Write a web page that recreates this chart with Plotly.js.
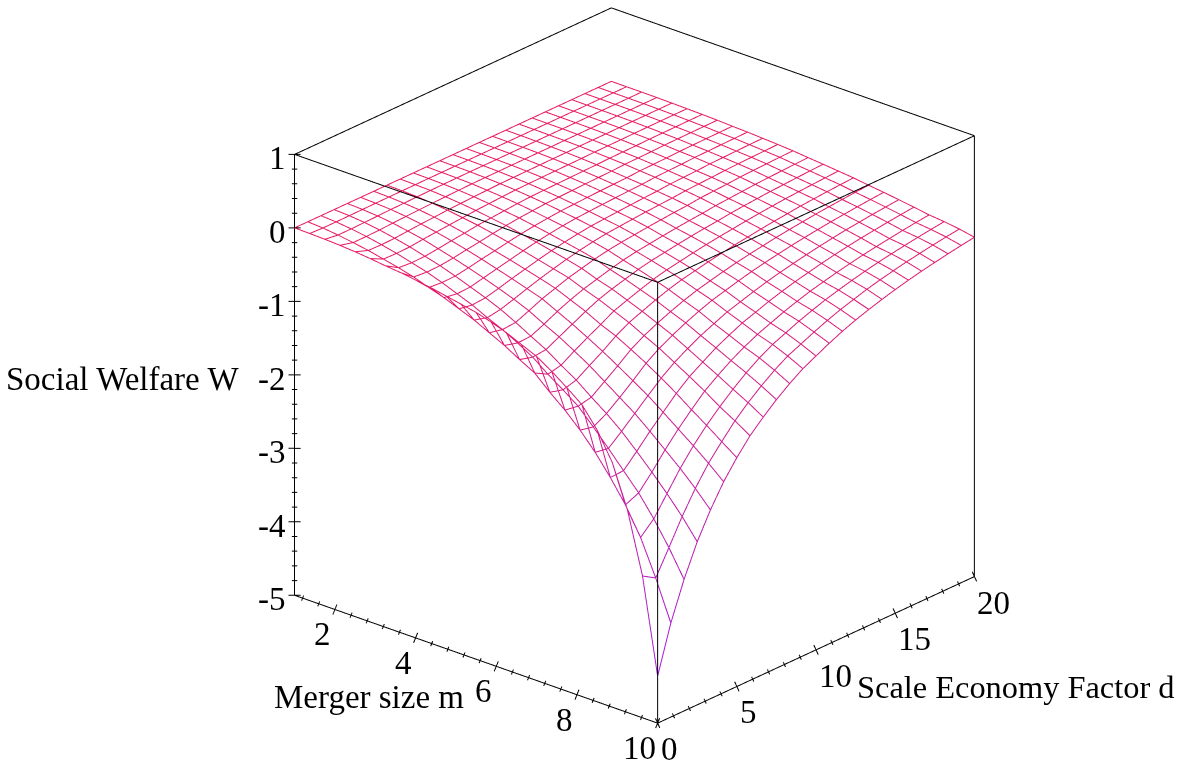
<!DOCTYPE html>
<html>
<head>
<meta charset="utf-8">
<script src="https://cdn.plot.ly/plotly-3.0.1.min.js"></script>
<style>html,body{margin:0;padding:0;background:#fff;}#chart{width:1197px;height:763px;}</style>
</head>
<body>
<div id="chart"></div>
<script>
const mValues = [10,9.625,9.25,8.875,8.5,8.125,7.75,7.375,7,6.625,6.25,5.875,5.5,5.125,4.75,4.375,4,3.625,3.25,2.875,2.5,2.125,1.75,1.375,1];
const dValues = [0,0.8333,1.6667,2.5,3.3333,4.1667,5,5.8333,6.6667,7.5,8.3333,9.1667,10,10.8333,11.6667,12.5,13.3333,14.1667,15,15.8333,16.6667,17.5,18.3333,19.1667,20];
// welfare W: one row per merger size (same order as mValues), one column per scale economy factor
const welfare = [
[-4.36,-3.72,-3.21,-2.78,-2.43,-2.13,-1.885,-1.67,-1.5,-1.345,-1.21,-1.09,-1,-.91,-.83,-.76,-.7,-.645,-.595,-.55,-.51,-.475,-.44,-.41,-.382],
[-3.07,-3.18,-2.85,-2.51,-2.21,-1.95,-1.74,-1.54,-1.375,-1.23,-1.1,-.99,-.91,-.83,-.755,-.69,-.635,-.58,-.535,-.495,-.457,-.425,-.394,-.367,-.342],
[-2.24,-2.7,-2.53,-2.27,-2.01,-1.785,-1.59,-1.42,-1.265,-1.125,-1.005,-.905,-.83,-.755,-.69,-.63,-.58,-.533,-.49,-.453,-.42,-.39,-.362,-.337,-.314],
[-1.67,-2.33,-2.25,-2.05,-1.83,-1.63,-1.45,-1.28,-1.15,-1.03,-.93,-.84,-.77,-.7,-.64,-.585,-.54,-.497,-.46,-.424,-.394,-.367,-.34,-.316,-.295],
[-1.3,-2.03,-2.02,-1.84,-1.65,-1.474,-1.3,-1.155,-1.04,-.93,-.84,-.757,-.695,-.632,-.577,-.528,-.487,-.445,-.41,-.378,-.35,-.326,-.302,-.281,-.262],
[-1.03,-1.76,-1.79,-1.64,-1.48,-1.32,-1.165,-1.035,-.93,-.835,-.756,-.68,-.625,-.569,-.519,-.475,-.437,-.4,-.367,-.338,-.311,-.29,-.268,-.25,-.233],
[-.87,-1.53,-1.57,-1.47,-1.335,-1.19,-1.035,-.915,-.82,-.735,-.66,-.594,-.545,-.496,-.452,-.414,-.381,-.349,-.322,-.297,-.274,-.255,-.236,-.22,-.205],
[-.72,-1.33,-1.36,-1.32,-1.19,-1.06,-.92,-.815,-.73,-.655,-.587,-.529,-.485,-.441,-.403,-.369,-.34,-.31,-.286,-.264,-.242,-.225,-.209,-.194,-.181],
[-.59,-1.16,-1.21,-1.16,-1.045,-.935,-.81,-.71,-.64,-.57,-.508,-.458,-.42,-.382,-.349,-.319,-.294,-.267,-.245,-.225,-.204,-.19,-.176,-.164,-.153],
[-.5,-.97,-1.07,-1.03,-.92,-.82,-.725,-.625,-.56,-.5,-.442,-.398,-.365,-.332,-.303,-.277,-.255,-.231,-.212,-.194,-.177,-.165,-.153,-.143,-.133],
[-.41,-.86,-.91,-.89,-.8,-.71,-.62,-.54,-.48,-.43,-.381,-.343,-.315,-.287,-.261,-.239,-.22,-.197,-.18,-.165,-.151,-.141,-.13,-.121,-.113],
[-.34,-.74,-.79,-.78,-.7,-.61,-.535,-.47,-.42,-.37,-.327,-.294,-.27,-.246,-.224,-.205,-.189,-.167,-.154,-.141,-.127,-.118,-.11,-.102,-.095],
[-.28,-.64,-.68,-.665,-.59,-.51,-.45,-.39,-.345,-.3,-.266,-.24,-.22,-.2,-.183,-.167,-.154,-.134,-.124,-.114,-.1,-.093,-.086,-.08,-.075],
[-.24,-.54,-.59,-.56,-.505,-.445,-.39,-.34,-.295,-.255,-.222,-.196,-.18,-.164,-.149,-.137,-.126,-.11,-.101,-.093,-.082,-.076,-.07,-.066,-.061],
[-.2,-.46,-.49,-.475,-.43,-.38,-.335,-.29,-.25,-.215,-.187,-.164,-.15,-.137,-.125,-.114,-.105,-.09,-.083,-.077,-.066,-.062,-.057,-.053,-.05],
[-.16,-.38,-.41,-.4,-.36,-.32,-.28,-.24,-.205,-.175,-.15,-.131,-.12,-.109,-.1,-.091,-.084,-.071,-.065,-.06,-.051,-.048,-.044,-.041,-.038],
[-.13,-.314,-.33,-.325,-.295,-.26,-.23,-.195,-.165,-.14,-.12,-.104,-.095,-.086,-.079,-.072,-.067,-.056,-.052,-.048,-.041,-.038,-.035,-.033,-.031],
[-.1,-.244,-.26,-.255,-.235,-.205,-.18,-.15,-.125,-.105,-.09,-.076,-.07,-.064,-.058,-.053,-.049,-.04,-.037,-.034,-.028,-.026,-.024,-.023,-.021],
[-.08,-.19,-.205,-.2,-.18,-.155,-.135,-.11,-.095,-.08,-.065,-.055,-.05,-.046,-.042,-.038,-.035,-.029,-.027,-.025,-.02,-.019,-.018,-.016,-.015],
[-.055,-.145,-.15,-.145,-.125,-.11,-.095,-.08,-.065,-.055,-.045,-.036,-.033,-.03,-.027,-.025,-.023,-.019,-.017,-.016,-.013,-.012,-.011,-.01,-.01],
[-.035,-.1,-.105,-.1,-.085,-.072,-.062,-.05,-.042,-.034,-.028,-.022,-.02,-.018,-.017,-.015,-.014,-.011,-.01,-.01,-.008,-.007,-.007,-.006,-.006],
[-.02,-.065,-.065,-.06,-.05,-.042,-.035,-.028,-.023,-.018,-.014,-.012,-.011,-.01,-.009,-.008,-.008,-.006,-.006,-.005,-.004,-.004,-.004,-.003,-.003],
[-.01,-.035,-.035,-.03,-.025,-.02,-.017,-.013,-.01,-.008,-.007,-.005,-.005,-.005,-.004,-.004,-.004,-.003,-.003,-.003,-.002,-.002,-.002,-.002,-.001],
[-.004,-.012,-.012,-.011,-.009,-.007,-.006,-.005,-.004,-.003,-.003,-.002,-.002,-.002,-.002,-.002,-.001,-.001,-.001,-.001,-.001,-.001,-.001,-.001,-.001],
[0,0,0,0,0,0,0,0,0,0,0,0,0,0,0,0,0,0,0,0,0,0,0,0,0]
];
const mMajor = [2,4,6,8,10];
const mMinor = [1.2,1.6,2.4,2.8,3.2,3.6,4.4,4.8,5.2,5.6,6.4,6.8,7.2,7.6,8.4,8.8,9.2,9.6];
const dMajor = [0,5,10,15,20];
const dMinor = [1,2,3,4,6,7,8,9,11,12,13,14,16,17,18,19];
const zMajor = [-5,-4,-3,-2,-1,0,1];
const zMinor = [-4.8,-4.6,-4.4,-4.2,-3.8,-3.6,-3.4,-3.2,-2.8,-2.6,-2.4,-2.2,-1.8,-1.6,-1.4,-1.2,-.8,-.6,-.4,-.2,.2,.4,.6,.8];

const mLo = 1, mHi = 10, dLo = 0, dHi = 20, zLo = -5, zHi = 1;
const serif = 'Liberation Serif, Times New Roman, serif';

// wireframe
const wx=[],wy=[],wz=[],wc=[];
function addPoint(i,j){wx.push(mValues[i]);wy.push(dValues[j]);wz.push(welfare[i][j]);wc.push(welfare[i][j]);}
function breakLine(){wx.push(null);wy.push(null);wz.push(null);wc.push(0);}
mValues.forEach((_,i)=>{dValues.forEach((_,j)=>addPoint(i,j));breakLine();});
dValues.forEach((_,j)=>{mValues.forEach((_,i)=>addPoint(i,j));breakLine();});

// frame and ticks
const bx=[],by=[],bz=[];
function seg(a,b){bx.push(a[0],b[0],null);by.push(a[1],b[1],null);bz.push(a[2],b[2],null);}
[[[mLo,dLo,zHi],[mLo,dHi,zHi]],[[mLo,dHi,zHi],[mHi,dHi,zHi]],[[mHi,dHi,zHi],[mHi,dLo,zHi]],[[mHi,dLo,zHi],[mLo,dLo,zHi]],
 [[mLo,dLo,zLo],[mLo,dLo,zHi]],[[mHi,dLo,zLo],[mHi,dLo,zHi]],[[mHi,dHi,zLo],[mHi,dHi,zHi]],
 [[mLo,dLo,zLo],[mHi,dLo,zLo]],[[mHi,dLo,zLo],[mHi,dHi,zLo]]].forEach(s=>seg(s[0],s[1]));
function tick(p,v,s){seg([p[0]-v[0]*s,p[1]-v[1]*s,p[2]-v[2]*s],[p[0]+v[0]*s,p[1]+v[1]*s,p[2]+v[2]*s]);}
const mTick=[.05,0,.078], dTick=[0,-.139,.0795], zTick=[.0856,.162,0];
mMajor.forEach(m=>tick([m,dLo,zLo],mTick,1));
mMinor.forEach(m=>tick([m,dLo,zLo],mTick,.5));
dMajor.forEach(d=>tick([mHi,d,zLo],dTick,1));
dMinor.forEach(d=>tick([mHi,d,zLo],dTick,.5));
zMajor.forEach(z=>tick([mLo,dLo,z],zTick,1));
zMinor.forEach(z=>tick([mLo,dLo,z],zTick,.45));

const traces=[
 {type:'scatter3d',mode:'lines',x:bx,y:by,z:bz,hoverinfo:'skip',showlegend:false,line:{color:'#000',width:2}},
 {type:'scatter3d',mode:'lines',x:wx,y:wy,z:wz,hoverinfo:'skip',showlegend:false,
  line:{width:2,color:wc,cmin:-4.4,cmax:0,showscale:false,
        colorscale:[[0,'rgb(160,24,224)'],[.5,'rgb(196,28,162)'],[1,'rgb(232,24,96)']]}}
];

function label(x,y,z,text,xa,xs,ys,size){
  return {x,y,z,text:String(text),showarrow:false,xanchor:xa,yanchor:'middle',xshift:xs,yshift:ys,
          font:{family:serif,size:size||33,color:'#000'}};
}
const ann=[];
mMajor.forEach(m=>ann.push(label(m,dLo,zLo,m,'right',m===10?0:-2,-25)));
dMajor.forEach(d=>ann.push(label(mHi,d,zLo,d,'left',1,-26)));
zMajor.forEach(z=>ann.push(label(mLo,dLo,z,z,'right',-7,-4)));
ann.push(label(5,dLo,zLo,'Merger size m','center',-87,-45));
ann.push(label(mHi,10,zLo,'Scale Economy Factor d','center',200,-37,32.4));
ann.push(label(mLo,dLo,-2,'Social Welfare W','center',-172,-4));

const pad=.1, R=2, boxScale=1.582;
const layout={
 width:1197,height:763,margin:{l:0,r:0,t:0,b:0},paper_bgcolor:'#fff',showlegend:false,
 scene:{
  domain:{x:[72/1197,1],y:[32/763,1]},
  aspectmode:'manual',aspectratio:{x:boxScale,y:boxScale,z:boxScale},
  bgcolor:'#fff',
  xaxis:{visible:false,range:[mLo-(mHi-mLo)*pad,mHi+(mHi-mLo)*pad]},
  yaxis:{visible:false,range:[dLo-(dHi-dLo)*pad,dHi+(dHi-dLo)*pad]},
  zaxis:{visible:false,range:[zLo-(zHi-zLo)*pad,zHi+(zHi-zLo)*pad]},
  camera:{projection:{type:'orthographic'},up:{x:0,y:0,z:1},center:{x:0,y:0,z:0},
          eye:{x:.6016*R,y:-.6895*R,z:.4037*R}},
  annotations:ann
 }
};
Plotly.newPlot('chart',traces,layout,{displayModeBar:false});
</script>
</body>
</html>
